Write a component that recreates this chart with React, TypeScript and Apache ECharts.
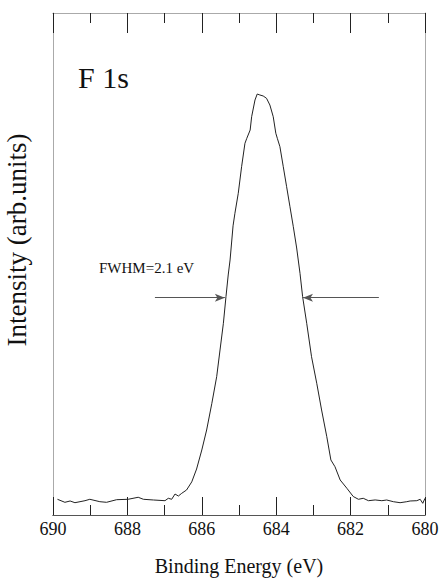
import React, { useEffect, useRef } from "react";
import * as echarts from "echarts";

const energy = [
  689.88, 689.68, 689.54, 689.41, 689.14, 689.01, 688.74, 688.56, 688.29, 687.98,
  687.71, 687.57, 687.3, 686.99, 686.9, 686.81, 686.72, 686.63, 686.54, 686.41,
  686.27, 686.14, 686.0, 685.87, 685.73, 685.6, 685.51, 685.42, 685.35, 685.29,
  685.24, 685.16, 685.11, 685.02, 684.93, 684.84, 684.79, 684.7, 684.66, 684.57,
  684.51, 684.44, 684.35, 684.26, 684.17, 684.08, 684.01, 683.97, 683.9, 683.81,
  683.72, 683.63, 683.54, 683.45, 683.36, 683.29, 683.18, 683.05, 682.91, 682.78,
  682.64, 682.53, 682.42, 682.28, 682.1, 681.93, 681.79, 681.66, 681.52, 681.34,
  681.16, 681.03, 680.85, 680.67, 680.49, 680.4, 680.22, 680.13, 680.06, 680.0,
];
const intensity = [
  3.13, 2.53, 2.79, 2.45, 2.85, 3.13, 2.65, 2.53, 3.05, 3.13,
  3.53, 3.13, 2.99, 2.85, 3.33, 3.13, 4.18, 3.78, 4.32, 4.98,
  6.6, 9.16, 12.95, 16.93, 22.25, 27.55, 32.87, 38.19, 43.49, 47.81,
  50.8, 57.6, 60.1, 64.08, 69.38, 74.04, 75.04, 76.69, 79.34, 82.67,
  83.86, 83.67, 83.47, 83.01, 81.67, 79.34, 76.04, 75.04, 73.37, 69.38,
  65.4, 61.41, 57.43, 53.19, 48.15, 43.49, 38.19, 31.53, 26.24, 20.92,
  15.6, 10.96, 9.62, 6.97, 5.32, 3.69, 3.13, 3.33, 2.85, 3.0,
  2.85, 2.99, 2.65, 2.45, 2.65, 2.79, 2.85, 3.13, 2.33, 3.33,
];
const fwhmLevel = 43.3;
const leftArrow = [687.26, 685.38];
const rightArrow = [681.24, 683.28];
// major ticks every 2 eV (labelled), minor ticks every 1 eV
const xMin = 680;
const xMax = 690;
const majorStep = 2;
const minorStep = 1;

const SERIF = "Liberation Serif";
const INK = "#222222";

function buildOption() {
  const mkX = (pos: string, step: number, len: number, labels: boolean, lineColor: string) => ({
    type: "value",
    min: xMin,
    max: xMax,
    interval: step,
    inverse: true,
    position: pos,
    splitLine: { show: false },
    axisLine: { show: true, onZero: false, lineStyle: { color: lineColor, width: 1 } },
    axisTick: { show: true, inside: true, length: len, lineStyle: { color: INK, width: 1 } },
    axisLabel: labels
      ? { show: true, margin: 5, fontSize: 18, fontFamily: SERIF, color: "#111111" }
      : { show: false },
  });
  const xAxis: any[] = [
    Object.assign(mkX("bottom", majorStep, 18, true, "#555555"), {
      name: "Binding Energy (eV)",
      nameLocation: "middle",
      nameGap: 41,
      nameTextStyle: { fontSize: 20, fontFamily: SERIF, color: "#111111" },
    }),
    mkX("bottom", minorStep, 10, false, "#555555"),
    mkX("top", majorStep, 20, false, "#aaaaaa"),
    mkX("top", minorStep, 10, false, "#aaaaaa"),
  ];
  const mkY = (pos: string) => ({
    type: "value",
    min: 0,
    max: 100,
    position: pos,
    axisLine: { show: true, onZero: false, lineStyle: { color: "#aaaaaa" } },
    axisTick: { show: false },
    axisLabel: { show: false },
    splitLine: { show: false },
  });
  return {
    animation: false,
    backgroundColor: "#ffffff",
    textStyle: { fontFamily: SERIF },
    grid: {
      left: 53,
      right: 16,
      top: 13,
      bottom: 67,
      show: false,
      containLabel: false,
      outerBoundsMode: "none",
    },
    xAxis,
    yAxis: [mkY("left"), mkY("right")],
    graphic: [
      {
        type: "text",
        x: 17,
        y: 240,
        rotation: Math.PI / 2,
        style: {
          text: "Intensity (arb.units)",
          fontSize: 27,
          fontFamily: SERIF,
          fill: "#111111",
          align: "center",
          verticalAlign: "middle",
        },
      },
      {
        type: "text",
        x: 78,
        y: 77,
        style: {
          text: "F 1s",
          fontSize: 30,
          fontFamily: SERIF,
          fill: "#111111",
          align: "left",
          verticalAlign: "middle",
        },
      },
      {
        type: "text",
        x: 99,
        y: 268,
        style: {
          text: "FWHM=2.1 eV",
          fontSize: 15,
          fontFamily: SERIF,
          fill: "#111111",
          align: "left",
          verticalAlign: "middle",
        },
      },
    ],
    series: [
      {
        type: "line",
        data: energy.map((e, i) => [e, intensity[i]]),
        xAxisIndex: 0,
        yAxisIndex: 0,
        showSymbol: false,
        symbol: "none",
        lineStyle: { color: "#222222", width: 1 },
        markLine: {
          silent: true,
          symbol: ["none", "arrow"],
          symbolSize: [6, 10],
          label: { show: false },
          lineStyle: { color: "#555555", width: 1, type: "solid" },
          data: [
            [{ coord: [leftArrow[0], fwhmLevel] }, { coord: [leftArrow[1], fwhmLevel] }],
            [{ coord: [rightArrow[0], fwhmLevel] }, { coord: [rightArrow[1], fwhmLevel] }],
          ],
        },
      },
    ],
  };
}

export default function App() {
  const ref = useRef<HTMLDivElement>(null);
  useEffect(() => {
    if (!ref.current) return;
    const chart = echarts.init(ref.current, undefined, { renderer: "svg" });
    chart.setOption(buildOption() as any);
    return () => chart.dispose();
  }, []);
  return (
    <div style={{ position: "fixed", left: 0, top: 0, width: 441, height: 582, background: "#fff" }}>
      <div ref={ref} style={{ width: 441, height: 582 }} />
    </div>
  );
}
